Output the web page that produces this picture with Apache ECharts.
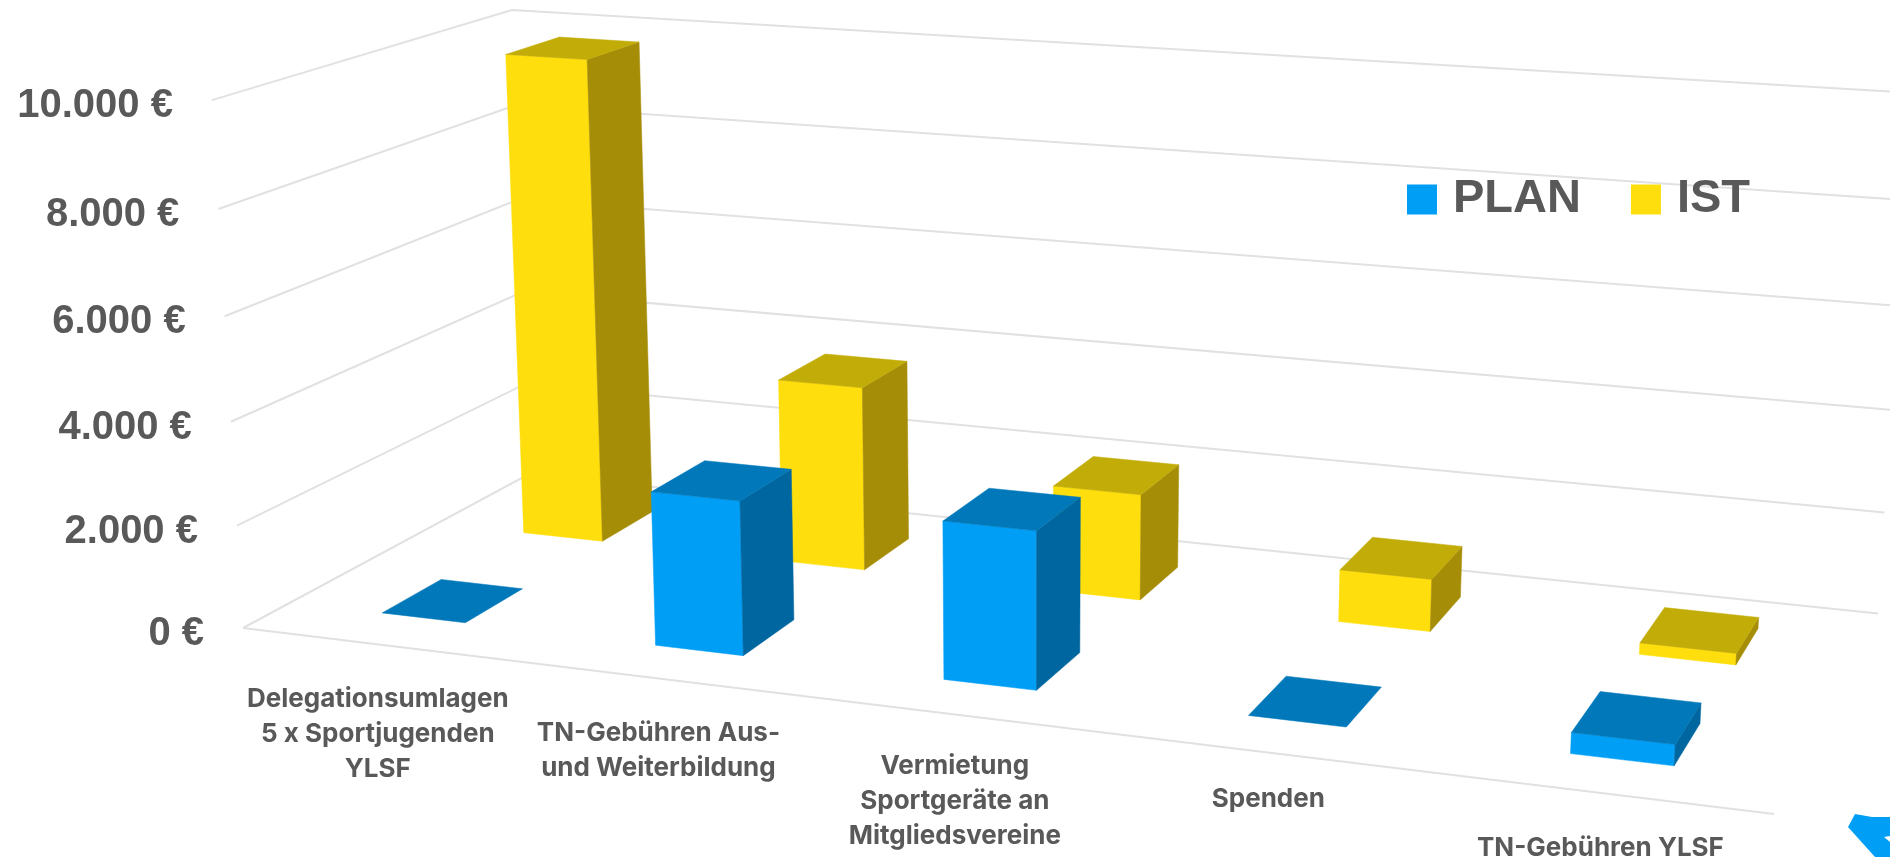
<!DOCTYPE html>
<html>
<head>
<meta charset="utf-8">
<style>
html, body { margin: 0; padding: 0; background: #fff; }
#chart { width: 1890px; height: 857px; }
</style>
<script src="https://cdn.jsdelivr.net/npm/echarts@6/dist/echarts.min.js"></script>
</head>
<body>
<div id="chart"></div>
<script>
var categories = [
	'Delegationsumlagen\n5 x Sportjugenden\nYLSF',
	'TN-Gebühren Aus-\nund Weiterbildung',
	'Vermietung\nSportgeräte an\nMitgliedsvereine',
	'Spenden',
	'TN-Gebühren YLSF'
];
var planValues = [0, 2950, 2970, 0, 380];
var istValues = [9800, 3700, 2100, 1020, 220];
var yTicks = [0, 2000, 4000, 6000, 8000, 10000];
var yTickLabels = ['0 €', '2.000 €', '4.000 €', '6.000 €', '8.000 €', '10.000 €'];

// Kamera: Ecken des Bodens im Bild + Fluchtpunkt der Senkrechten
var floorFL = [243, 628], floorFR = [1774, 814], floorBR = [1878, 613.5], floorBL = [529, 474];
var vanish = [1030, 14000];
var wallTopY = 10; // Oberkante 10.000 an der hinteren linken Ecke
var labelDrop = [37, 37, 34, 29, 38]; // Abstand Beschriftung zur Vorderkante

var dx1 = floorFR[0] - floorBR[0], dy1 = floorFR[1] - floorBR[1];
var dx2 = floorBL[0] - floorBR[0], dy2 = floorBL[1] - floorBR[1];
var sx = floorFL[0] - floorFR[0] + floorBR[0] - floorBL[0];
var sy = floorFL[1] - floorFR[1] + floorBR[1] - floorBL[1];
var den = dx1 * dy2 - dx2 * dy1;
var g = (sx * dy2 - dx2 * sy) / den;
var h = (dx1 * sy - sx * dy1) / den;
var ax = floorFR[0] - floorFL[0] + g * floorFR[0];
var bx = floorBL[0] - floorFL[0] + h * floorBL[0];
var ay = floorFR[1] - floorFL[1] + g * floorFR[1];
var by = floorBL[1] - floorFL[1] + h * floorBL[1];
var k = (wallTopY * (1 + h) - (by + floorFL[1])) / (vanish[1] - wallTopY);

// u: entlang der Kategorien, d: Tiefe (0 vorne, 1 hinten), v: Anteil der Wertachse
function project(u, d, v) {
	var t = v * k;
	var w = g * u + h * d + 1 + t;
	return [
		(ax * u + bx * d + floorFL[0] + t * vanish[0]) / w,
		(ay * u + by * d + floorFL[1] + t * vanish[1]) / w
	];
}

function toUnit(point, cs) {
	return [(point[0] - cs.x) / cs.width, (cs.y + cs.height - point[1]) / cs.height];
}

var textColor = '#595959';
var lineColor = '#E1E1E1';
var barWidth = 0.31;  // Anteil der Kategoriebreite
var barDepth = 0.2;

function quad(points, color) {
	return {
		type: 'polygon',
		shape: { points: points },
		style: { fill: color, stroke: color, lineWidth: 0.5 }
	};
}

function barRenderer(depthCenter, colors) {
	return function(params, api) {
		var cs = params.coordSys;
		var top = toUnit(api.coord([api.value(0), api.value(1)]), cs);
		var half = api.size([1, 0])[0] / cs.width * barWidth / 2;
		var u0 = top[0] - half, u1 = top[0] + half;
		var d0 = depthCenter - barDepth / 2, d1 = depthCenter + barDepth / 2;
		var v = top[1];
		var children = [];
		if (v > 0) {
			children.push(quad([project(u0, d0, 0), project(u1, d0, 0), project(u1, d0, v), project(u0, d0, v)], colors[0]));
			children.push(quad([project(u1, d0, 0), project(u1, d1, 0), project(u1, d1, v), project(u1, d0, v)], colors[2]));
		}
		children.push(quad([project(u0, d0, v), project(u1, d0, v), project(u1, d1, v), project(u0, d1, v)], colors[1]));
		return { type: 'group', children: children };
	};
}

function renderWall(params, api) {
	var cs = params.coordSys;
	var v = toUnit(api.coord([0, api.value(1)]), cs)[1];
	var front = project(0, 0, v), corner = project(0, 1, v), right = project(1, 1, v);
	var children = [{
		type: 'polyline',
		shape: { points: [front, corner, right] },
		style: { stroke: lineColor, lineWidth: 2, fill: null }
	}, {
		type: 'text',
		x: front[0] - 39,
		y: front[1] + 6,
		style: {
			text: yTickLabels[params.dataIndex],
			fill: textColor,
			font: 'bold 40px "Liberation Sans"',
			align: 'right',
			verticalAlign: 'middle'
		}
	}];
	return { type: 'group', children: children };
}

function renderFrontEdge(params, api) {
	return {
		type: 'line',
		shape: {
			x1: project(0, 0, 0)[0], y1: project(0, 0, 0)[1],
			x2: project(1, 0, 0)[0], y2: project(1, 0, 0)[1]
		},
		style: { stroke: lineColor, lineWidth: 2 }
	};
}

function renderCategoryLabel(params, api) {
	var cs = params.coordSys;
	var u = toUnit(api.coord([api.value(0), 0]), cs)[0];
	var p = project(u, 0, 0);
	return {
		type: 'text',
		x: p[0],
		y: p[1] + labelDrop[params.dataIndex],
		style: {
			text: categories[params.dataIndex],
			fill: textColor,
			font: 'bold 26px Inter',
			align: 'center',
			verticalAlign: 'top',
			lineHeight: 35
		}
	};
}

function pairs(values) {
	var out = [];
	for (var i = 0; i < values.length; i++) {
		out.push([i, values[i]]);
	}
	return out;
}

var tickData = [];
for (var i = 0; i < yTicks.length; i++) {
	tickData.push([0, yTicks[i]]);
}
var categoryData = [];
for (var j = 0; j < categories.length; j++) {
	categoryData.push([j, 0]);
}

var myChart = echarts.init(document.getElementById('chart'), null, { renderer: 'canvas' });
myChart.setOption({
	animation: false,
	backgroundColor: '#fff',
	grid: { left: 0, right: 0, top: 0, bottom: 0 },
	xAxis: { type: 'category', data: categories, show: false },
	yAxis: { type: 'value', min: 0, max: 10000, interval: 2000, show: false },
	legend: {
		left: 1402,
		top: 171,
		data: ['PLAN', 'IST'],
		icon: 'rect',
		itemWidth: 30,
		itemHeight: 30,
		itemGap: 50,
		selectedMode: false,
		textStyle: { color: textColor, fontFamily: 'Liberation Sans', fontWeight: 'bold', fontSize: 47, padding: [0, 0, 0, 11] }
	},
	series: [
		{ type: 'custom', silent: true, z: 1, renderItem: renderWall, data: tickData, clip: false },
		{ type: 'custom', silent: true, z: 1, renderItem: renderFrontEdge, data: [[0, 0]], clip: false },
		{ type: 'custom', silent: true, z: 1, renderItem: renderCategoryLabel, data: categoryData, clip: false },
		{
			name: 'IST', type: 'custom', z: 2, silent: true, clip: false,
			itemStyle: { color: '#FFDE0D' },
			renderItem: barRenderer(0.75, ['#FFDE0D', '#C2AC08', '#A68D08']),
			data: pairs(istValues)
		},
		{
			name: 'PLAN', type: 'custom', z: 3, silent: true, clip: false,
			itemStyle: { color: '#009EF5' },
			renderItem: barRenderer(0.25, ['#009EF5', '#0078BA', '#0066A0']),
			data: pairs(planValues)
		}
	],
	graphic: [
		{
			type: 'polygon',
			shape: { points: [[1855, 814], [1848, 827], [1875, 857], [1890, 857], [1890, 817], [1872, 817]] },
			style: { fill: '#009EF5' }
		},
		{
			type: 'polygon',
			shape: { points: [[1884, 837], [1890, 836], [1890, 842]] },
			style: { fill: '#fff' }
		}
	]
});
</script>
</body>
</html>
